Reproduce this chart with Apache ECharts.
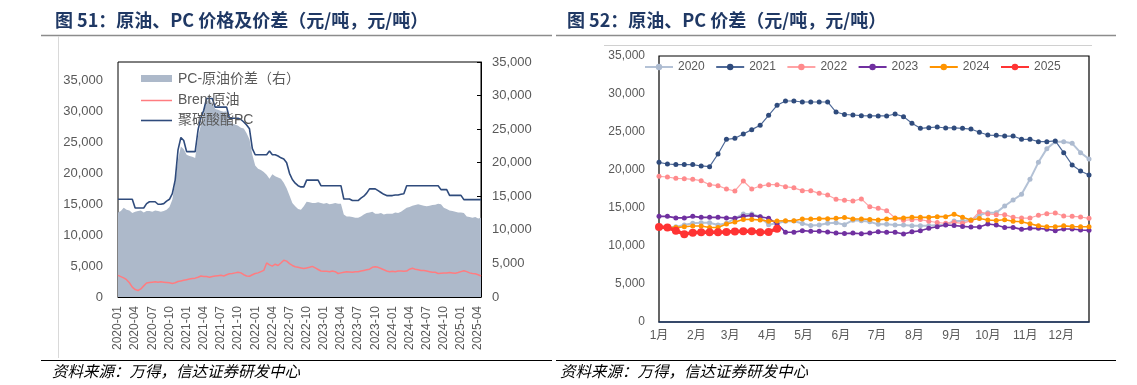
<!DOCTYPE html>
<html><head><meta charset="utf-8">
<script src="https://cdn.jsdelivr.net/npm/echarts@6/dist/echarts.min.js"></script>
<style>html,body{margin:0;padding:0;background:#fff}#c{width:1137px;height:385px}</style>
</head><body><div id="c"></div>
<script>
// ---------- Left chart data (semi-monthly) ----------
const months = [
 '2020-01','2020-02','2020-03','2020-04','2020-05','2020-06','2020-07','2020-08','2020-09','2020-10','2020-11','2020-12',
 '2021-01','2021-02','2021-03','2021-04','2021-05','2021-06','2021-07','2021-08','2021-09','2021-10','2021-11','2021-12',
 '2022-01','2022-02','2022-03','2022-04','2022-05','2022-06','2022-07','2022-08','2022-09','2022-10','2022-11','2022-12',
 '2023-01','2023-02','2023-03','2023-04','2023-05','2023-06','2023-07','2023-08','2023-09','2023-10','2023-11','2023-12',
 '2024-01','2024-02','2024-03','2024-04','2024-05','2024-06','2024-07','2024-08','2024-09','2024-10','2024-11','2024-12',
 '2025-01','2025-02','2025-03','2025-04'];
const dates = months.flatMap(m => [m + '-01', m + '-16']);

const pcPrice = [
 15800,15800,15800,15800,15800,15800,14400,14400,
 14400,14400,15100,15400,15400,15400,15000,15000,
 15100,15500,15800,16700,18900,23800,25800,25300,
 23500,23500,23500,23500,27000,29000,30200,32100,
 32100,32100,30700,30700,30700,30700,30700,28900,
 28900,28900,28900,28700,28300,27800,27200,24000,
 23000,23000,23000,23000,23000,23600,23000,23000,
 22800,22500,22300,21700,20000,19000,18400,18000,
 17800,17800,18900,18900,18900,18900,18900,18000,
 18000,18000,18000,18000,18000,18000,18000,15850,
 15850,15850,15600,15600,15600,16000,16300,16800,
 17480,17480,17480,17200,16900,16600,16400,16400,
 16400,16500,16500,16600,16700,18000,18000,18000,
 18000,18000,18000,18000,18000,18000,18000,18000,
 18000,17360,17360,17360,16440,16440,16440,16440,
 16440,15740,15740,15740,15740,15740,15740,15740];

const brent = [
 3500,3300,3100,2800,2300,1600,1200,1050,
 1300,1800,2250,2350,2400,2450,2400,2450,
 2400,2350,2300,2200,2300,2500,2600,2700,
 2800,2900,3000,3050,3200,3400,3300,3300,
 3200,3300,3400,3450,3500,3400,3600,3750,
 3800,3900,4000,3900,3600,3400,3350,3600,
 3800,3900,4100,4300,5500,5200,5000,5300,
 5100,5500,5950,5800,5400,5100,4900,4800,
 4700,4600,4700,4800,4950,4700,4450,4200,
 4150,4150,4100,4200,4100,3800,3900,4000,
 4100,4050,4000,4100,4100,4200,4300,4400,
 4500,4800,4900,4800,4600,4400,4200,4100,
 4150,4100,4200,4200,4150,4200,4500,4650,
 4500,4400,4300,4300,4200,4100,4000,4000,
 3800,3850,3900,3900,3950,3900,3850,3950,
 4100,4250,4100,3900,3800,3750,3600,3400];

const pcSpread = [
 12600,12800,13300,13000,12900,12500,12700,12800,
 12900,12600,12800,12800,12700,12900,12800,12700,
 12800,13000,13400,14500,17000,20500,22400,22000,
 21200,21000,20900,20700,23900,25600,27500,29100,
 29500,28800,28000,27900,27700,27600,27650,26200,
 25800,25700,25500,25200,25100,24400,23500,21200,
 19600,19100,18900,18600,18200,17600,18300,18000,
 17800,17600,17000,16200,15100,14000,13500,13100,
 13000,13500,14200,14100,14000,14000,14100,14000,
 13900,14000,13800,13900,14000,13900,13900,12300,
 12000,12000,11900,11800,11800,12000,12300,12500,
 12600,12700,12400,12400,12500,12300,12400,12400,
 12400,12600,12500,12700,13000,13300,13400,13600,
 13700,13800,13700,13600,13500,13600,13700,13750,
 13900,13800,13300,13100,12900,12800,12700,12600,
 12600,12500,12000,11900,11800,11900,11700,11800];

// ---------- Right chart data (weekly, 52 weeks) ----------
const monthStartDays = [0,31,59,90,120,151,181,212,243,273,304,334];
const monthNames = ['1月','2月','3月','4月','5月','6月','7月','8月','9月','10月','11月','12月'];
const yearNames = ['2020','2021','2022','2023','2024','2025'];
const y2020 = [12500,12450,12540,12760,12980,13070,13070,12760,12980,13640,14210,14210,13860,12800,12980,13250,
 13290,12950,12700,12750,12980,13070,12800,13400,13330,13200,12850,12850,12760,12760,12670,12670,
 12670,12760,12800,13290,13290,13420,14080,14390,14390,15260,16050,16800,18770,21010,22810,23730,
 23730,23510,22280,21450];
const y2021 = [21010,20790,20710,20710,20710,20530,20440,22100,24040,24170,24740,25310,25880,27190,28510,29080,
 29080,28950,28950,28950,28950,27630,27300,27240,27150,27110,27110,27110,27370,27020,26140,25480,
 25570,25660,25530,25530,25480,25390,24960,24600,24560,24470,24470,24040,24040,23730,23730,23820,
 22280,20660,19870,19340];
const y2022 = [19170,19080,18900,18860,18770,18600,18070,17940,17500,17240,18550,17500,17890,18070,18070,17810,
 17650,17280,17280,16930,16710,16140,16030,15920,16200,15150,14960,14650,13690,13380,13460,13480,
 13260,13090,12980,13110,12980,13330,14520,14210,14120,14120,13770,13680,13680,14040,14250,14340,
 13950,13900,13820,13640];
const y2023 = [13900,13900,13700,13700,13900,13770,13770,13790,13700,13650,13900,14030,13850,13650,12900,11820,
 11800,12020,11950,11950,11850,11700,11650,11700,11620,11700,11870,11800,11800,11580,11860,12000,
 12330,12540,12760,12700,12580,12500,12500,12890,12760,12440,12450,12190,12320,12320,12210,12020,
 12230,12230,12100,12060];
const y2024 = [12600,12450,12420,12540,12630,12630,12430,12430,12900,13150,13480,13500,13420,13250,13290,13330,
 13330,13550,13550,13600,13600,13640,13750,13550,13550,13500,13420,13550,13640,13700,13770,13770,
 13770,13860,13860,14170,13770,13420,13620,13420,13350,13450,13250,13200,12940,12650,12540,12540,
 12650,12560,12540,12540];
const y2025 = [12500,12430,12020,11560,11750,11800,11800,11800,11850,11900,11930,11930,11800,11850,12280];

const yearValues = [y2020, y2021, y2022, y2023, y2024, y2025];
const yearColors = ['#adbbd0','#2f4b7c','#ff8a8c','#7030a0','#ff9400','#ff3333'];
const yearLineColors = ['#b4c2d6','#4f6a98','#ffa3a5','#7030a0','#ff9400','#ff3333'];
const yearLineWidths = [2,1.2,1.2,1.6,1.6,3.5];
const yearSymbolSizes = [5,5,5,5,5,8];
const DAYS_PER_WEEK = 7;

// ---------- chart ----------
const FONT = "'Liberation Sans','Noto Sans CJK SC',sans-serif";
const CJK = "'Noto Sans CJK SC','Liberation Sans',sans-serif";
const fmt = v => String(v).replace(/\B(?=(\d{3})+(?!\d))/g, ',');
const isQuarter = (idx, val) => /-(01|04|07|10)-01$/.test(val);

const chart = echarts.init(document.getElementById('c'), null, {renderer: 'canvas'});

const rightSeries = yearNames.map((name, k) => ({
  name: name, type: 'line', xAxisIndex: 1, yAxisIndex: 2,
  data: yearValues[k].map((v, i) => [i * DAYS_PER_WEEK, v]),
  symbol: 'circle', symbolSize: yearSymbolSizes[k], showSymbol: true,
  lineStyle: {color: yearLineColors[k], width: yearLineWidths[k]},
  itemStyle: {color: yearColors[k]},
  z: 3 + k
}));

const option = {
  animation: false,
  backgroundColor: '#fff',
  grid: [
    {left: 118, top: 62, width: 363, height: 235, show: true, borderColor: '#000', borderWidth: 1, backgroundColor: 'transparent', z: 0},
    {left: 659, top: 56, width: 430, height: 266, show: true, borderColor: '#000', borderWidth: 1.2, backgroundColor: 'transparent', z: 0}
  ],
  legend: [{
    data: yearNames, left: 644, top: 61, padding: 0, itemWidth: 28, itemHeight: 8, itemGap: 10.5, selectedMode: false,
    textStyle: {color: '#595959', fontSize: 12, fontFamily: FONT}
  }],
  xAxis: [
    {type: 'category', gridIndex: 0, data: dates, boundaryGap: false,
     axisLine: {lineStyle: {color: '#000', width: 1}},
     axisTick: {inside: true, length: 4, interval: isQuarter, lineStyle: {color: '#000'}},
     axisLabel: {interval: isQuarter, rotate: 90, formatter: v => v.slice(0, 7), color: '#595959', fontSize: 12, fontFamily: FONT, margin: 9},
     splitLine: {show: false}},
    {type: 'value', gridIndex: 1, min: 0, max: 357,
     axisLine: {lineStyle: {color: '#1f3864', width: 1.5}},
     axisTick: {show: false}, splitLine: {show: false},
     axisLabel: {customValues: monthStartDays, formatter: v => monthNames[monthStartDays.indexOf(v)] || '',
                 color: '#595959', fontSize: 12, fontFamily: FONT, margin: 8}}
  ],
  yAxis: [
    {type: 'value', gridIndex: 0, min: 0, max: 38000, interval: 5000,
     axisLine: {show: false}, axisTick: {show: false}, splitLine: {show: false},
     axisLabel: {showMaxLabel: false, formatter: v => v > 35000 ? '' : fmt(v), color: '#595959', fontSize: 13, fontFamily: FONT, margin: 15}},
    {type: 'value', gridIndex: 0, position: 'right', min: 0, max: 35000, interval: 5000,
     axisLine: {show: true, lineStyle: {color: '#000', width: 1}},
     axisTick: {show: true, inside: true, length: 4, lineStyle: {color: '#000'}}, splitLine: {show: false},
     axisLabel: {formatter: fmt, color: '#595959', fontSize: 13, fontFamily: FONT, margin: 11}},
    {type: 'value', gridIndex: 1, min: 0, max: 35000, interval: 5000,
     axisLine: {show: false}, axisTick: {show: false}, splitLine: {show: false},
     axisLabel: {formatter: fmt, color: '#595959', fontSize: 12, fontFamily: FONT, margin: 14}}
  ],
  series: [
    {name: 'PC-原油价差（右）', type: 'line', xAxisIndex: 0, yAxisIndex: 1, data: pcSpread,
     symbol: 'none', lineStyle: {width: 0, color: '#adb9ca'}, areaStyle: {color: '#adb9ca', opacity: 1}, z: 1},
    {name: 'Brent原油', type: 'line', xAxisIndex: 0, yAxisIndex: 0, data: brent,
     symbol: 'none', lineStyle: {color: '#ff7c80', width: 1.5}, itemStyle: {color: '#ff7c80'}, z: 2},
    {name: '聚碳酸酯PC', type: 'line', xAxisIndex: 0, yAxisIndex: 0, data: pcPrice,
     symbol: 'none', lineStyle: {color: '#2f4b7c', width: 1.6}, itemStyle: {color: '#2f4b7c'}, z: 3}
  ].concat(rightSeries),
  graphic: [
    // titles
    {type: 'text', left: 55, top: 11, style: {text: '图 51：原油、PC 价格及价差（元/吨，元/吨）', font: 'bold 18px ' + CJK, fill: '#1f3864'}},
    {type: 'text', left: 567, top: 11, style: {text: '图 52：原油、PC 价差（元/吨，元/吨）', font: 'bold 18px ' + CJK, fill: '#1f3864'}},
    // title underlines
    {type: 'line', shape: {x1: 41, y1: 35.5, x2: 552, y2: 35.5}, style: {stroke: '#8c8c8c', lineWidth: 1.5}},
    {type: 'line', shape: {x1: 556, y1: 35.5, x2: 1116, y2: 35.5}, style: {stroke: '#8c8c8c', lineWidth: 1.5}},
    // light chart-area borders
    {type: 'line', shape: {x1: 58.5, y1: 36, x2: 58.5, y2: 358}, style: {stroke: '#d9d9d9', lineWidth: 1}},
    {type: 'line', shape: {x1: 604, y1: 45.5, x2: 1092, y2: 45.5}, style: {stroke: '#d0d0d0', lineWidth: 1}},
    // footer lines
    {type: 'line', shape: {x1: 41, y1: 360.5, x2: 552, y2: 360.5}, style: {stroke: '#000', lineWidth: 1}},
    {type: 'line', shape: {x1: 556, y1: 360.5, x2: 1116, y2: 360.5}, style: {stroke: '#000', lineWidth: 1}},
    // footers
    {type: 'text', left: 52, top: 363, style: {text: '资料来源：万得，信达证券研发中心', font: 'italic 15.5px ' + CJK, fill: '#000'}},
    {type: 'text', left: 560, top: 363, style: {text: '资料来源：万得，信达证券研发中心', font: 'italic 15.5px ' + CJK, fill: '#000'}},
    // left legend (drawn inside plot)
    {type: 'rect', shape: {x: 141, y: 75, width: 31, height: 7}, style: {fill: '#adb9ca'}, z: 10},
    {type: 'text', x: 178, y: 79, style: {text: 'PC-原油价差（右）', font: '14px ' + FONT, fill: '#595959', textVerticalAlign: 'middle'}, z: 10},
    {type: 'line', shape: {x1: 141, y1: 100.5, x2: 172, y2: 100.5}, style: {stroke: '#ff7c80', lineWidth: 1.5}, z: 10},
    {type: 'text', x: 178, y: 100, style: {text: 'Brent原油', font: '14px ' + FONT, fill: '#595959', textVerticalAlign: 'middle'}, z: 10},
    {type: 'line', shape: {x1: 141, y1: 120.5, x2: 172, y2: 120.5}, style: {stroke: '#2f4b7c', lineWidth: 1.6}, z: 10},
    {type: 'text', x: 178, y: 120, style: {text: '聚碳酸酯PC', font: '14px ' + FONT, fill: '#595959', textVerticalAlign: 'middle'}, z: 10}
  ]
};
chart.setOption(option);
</script>
</body></html>
